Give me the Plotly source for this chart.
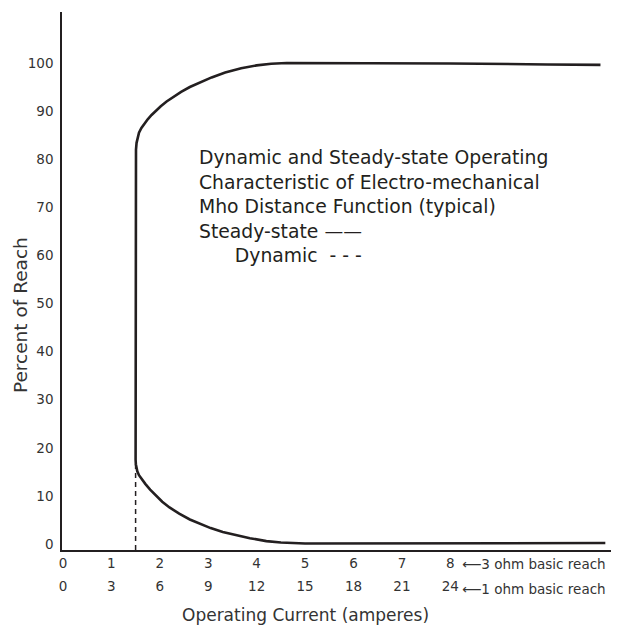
import plotly.graph_objects as go

# steady-state characteristic, lower branch (left to right) and upper branch
lower_x = [1.5, 1.505, 1.515, 1.535, 1.57, 1.62, 1.7, 1.8, 1.92, 2.05, 2.2, 2.4, 2.62, 2.83, 3.05, 3.3, 3.58,
           3.86, 4.2, 4.5, 5.0, 6.0, 8.0, 10.0, 11.2]
lower_y = [17.5, 16.6, 15.9, 15.1, 14.3, 13.5, 12.5, 11.3, 10.0, 8.8, 7.6, 6.3, 5.1, 4.2, 3.3, 2.5, 1.8,
           1.2, 0.6, 0.3, 0.1, 0.1, 0.2, 0.2, 0.2]
upper_x = [1.5, 1.5, 1.502, 1.508, 1.52, 1.54, 1.57, 1.62, 1.68, 1.75, 1.83, 1.92, 2.02, 2.14, 2.28, 2.44,
           2.62, 2.83, 3.07, 3.35, 3.68, 4.0, 4.3, 4.62, 6.0, 8.0, 10.0, 11.1]
upper_y = [17.5, 78.5, 80.5, 82.0, 83.4, 84.5, 85.5, 86.5, 87.4, 88.3, 89.2, 90.1, 91.0, 92.0, 93.0, 94.0,
           95.0, 96.0, 97.0, 98.0, 98.9, 99.5, 99.85, 100.0, 100.0, 99.9, 99.7, 99.6]

# dynamic characteristic (dashed)
dyn_x = [1.5, 1.5]
dyn_y = [-1.25, 17.0]

amps_3ohm = [0, 1, 2, 3, 4, 5, 6, 7, 8]
amps_1ohm = [0, 3, 6, 9, 12, 15, 18, 21, 24]
reach_ticks = [0, 10, 20, 30, 40, 50, 60, 70, 80, 90, 100]

note_lines = [
    "Dynamic and Steady-state Operating",
    "Characteristic of Electro-mechanical",
    "Mho Distance Function (typical)",
    "Steady-state \u2014\u2014",
    "      Dynamic  - - -",
]

FONT = "DejaVu Sans"
INK = "#231f20"
X_RANGE = [-0.02, 11.4]

fig = go.Figure()

ss_x = lower_x[::-1] + upper_x[1:]
ss_y = lower_y[::-1] + upper_y[1:]
fig.add_trace(go.Scatter(x=ss_x, y=ss_y, mode="lines",
                         line=dict(color=INK, width=2.6), showlegend=False))
fig.add_trace(go.Scatter(x=dyn_x, y=dyn_y, mode="lines",
                         line=dict(color=INK, width=1.5, dash="5px,4px"), showlegend=False))
# invisible trace to enable the second (1 ohm) axis
fig.add_trace(go.Scatter(x=amps_1ohm, y=[None] * len(amps_1ohm),
                         xaxis="x2", mode="lines", showlegend=False))

for i, t in enumerate(note_lines):
    fig.add_annotation(x=2.77, y=80.3 - 5.1 * i, xref="x", yref="y", text=t,
                       showarrow=False, xanchor="left", yanchor="middle",
                       font=dict(family=FONT, size=18.8, color=INK))

fig.add_annotation(x=8, y=-1.25, xref="x", yref="y", text="\u27f53 ohm basic reach",
                   showarrow=False, xanchor="left", yanchor="top", xshift=10, yshift=-4,
                   font=dict(family=FONT, size=13.5, color="#333"))
fig.add_annotation(x=8, y=-1.25, xref="x", yref="y", text="\u27f51 ohm basic reach",
                   showarrow=False, xanchor="left", yanchor="top", xshift=10, yshift=-29,
                   font=dict(family=FONT, size=13.5, color="#333"))

fig.add_annotation(x=5, y=0, xref="x", yref="paper", text="Operating Current (amperes)",
                   showarrow=False, xanchor="center", yanchor="top", yshift=-53,
                   font=dict(family=FONT, size=17, color="#333"))
fig.add_annotation(x=0, y=47.6, xref="paper", yref="y", text="Percent of Reach",
                   showarrow=False, textangle=-90, xanchor="center", yanchor="middle",
                   xshift=-42, font=dict(family=FONT, size=18.5, color="#333"))

# the page body adds an 8px offset, so the figure is 8px smaller than the window
fig.update_layout(
    width=611, height=618,
    margin=dict(l=54, r=4, t=4, b=76),
    paper_bgcolor="white", plot_bgcolor="white",
    font=dict(family=FONT, size=13.5, color="#333"),
    xaxis=dict(range=X_RANGE, tickvals=amps_3ohm, ticktext=[str(v) for v in amps_3ohm],
               showgrid=False, zeroline=False, showline=True, linecolor=INK, linewidth=1.5,
               ticks="", tickfont=dict(size=13.5)),
    xaxis2=dict(range=[3 * X_RANGE[0], 3 * X_RANGE[1]], overlaying="x", anchor="y", side="bottom",
                tickvals=amps_1ohm, ticktext=[str(v) for v in amps_1ohm],
                showgrid=False, zeroline=False, showline=False, ticks="",
                ticklabelstandoff=26, tickfont=dict(size=13.5)),
    yaxis=dict(range=[-1.25, 110.6], tickvals=reach_ticks, showgrid=False, zeroline=False,
               showline=True, linecolor=INK, linewidth=1.5, ticks="", ticklabelstandoff=4,
               tickfont=dict(size=13.5)),
)

fig.write_html("out.html")
